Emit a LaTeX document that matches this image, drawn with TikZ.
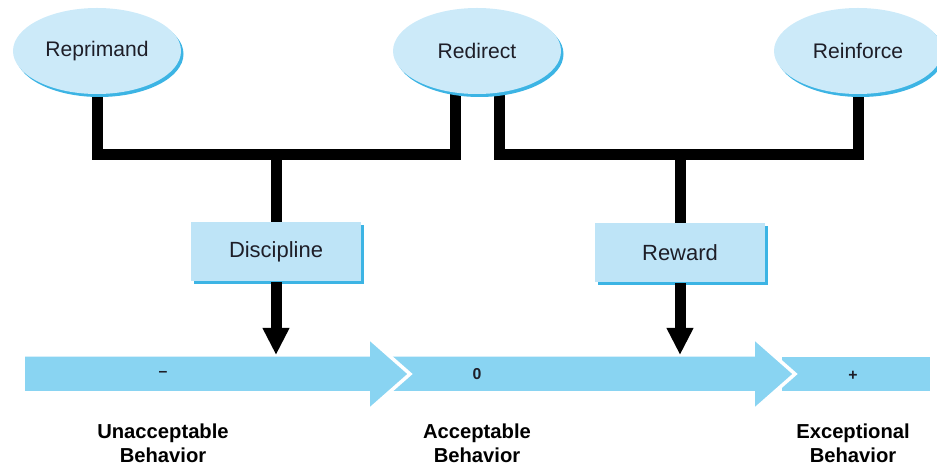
\documentclass[tikz,border=0pt]{standalone}
\usepackage{fontspec}
\setmainfont{Liberation Sans}
\usetikzlibrary{calc}
\usetikzlibrary{shapes.geometric,shadows}
\usetikzlibrary{arrows.meta,backgrounds}

\definecolor{dailan}{RGB}{137,212,242}
\definecolor{qianlan}{RGB}{204,234,249}
\definecolor{kuanglan}{RGB}{190,228,247}
\definecolor{yinlan}{RGB}{60,180,228}
\definecolor{zi}{RGB}{30,30,40}

\begin{document}
\begin{tikzpicture}[x=0.2mm,y=-0.2mm,line join=miter] %% tikz
	\tikzstyle{tuoyuan}=[ellipse,fill=qianlan,minimum width=3.36cm,minimum height=1.72cm,inner sep=0pt,text=zi,font=\fontsize{12}{14}\selectfont,drop shadow={fill=yinlan,opacity=1,shadow xshift=0.5mm,shadow yshift=-0.6mm}];
	\tikzstyle{kuang}=[rectangle,fill=kuanglan,minimum width=3.4cm,minimum height=1.18cm,inner sep=0pt,text=zi,font=\fontsize{12.5}{14}\selectfont,drop shadow={fill=yinlan,opacity=1,shadow xshift=0.6mm,shadow yshift=-0.6mm}];
	\tikzstyle{xian}=[line width=2.2mm,black];
	\tikzstyle{jiantou}=[xian,-{Triangle[length=5.4mm,width=5mm]}];
	\tikzstyle{duan}=[fill=dailan,draw=white,line width=0.7mm];
	\tikzstyle{fuhao}=[text=zi,font=\bfseries\fontsize{9}{10}\selectfont];
	\tikzstyle{biaoqian}=[align=center,text=black,font=\bfseries\fontsize{11.5}{13.5}\selectfont];
	\useasboundingbox (0,0) rectangle (937,466);
	%% nodes
	\node[tuoyuan] (rep) at (97,51) {Reprimand};
	\node[tuoyuan] (redir) at (477,51) {Redirect};
	\node[tuoyuan] (reinf) at (858,51) {Reinforce};
	\node[kuang] (disc) at (276,252) {Discipline};
	\node[kuang] (rew) at (680,253) {Reward};
	\coordinate (heng) at (0,155);
	\coordinate (redL) at ($(redir.south)+(-22,0)$);
	\coordinate (redR) at ($(redir.south)+(22,0)$);
	%% branches
	\begin{pgfonlayer}{background}
		\draw[xian] (rep.south) |- (redL |- heng) -- (redL);
		\draw[xian] (redR) |- (reinf.south |- heng) -- (reinf.south);
		\draw[xian] (disc.north) -- (disc.north |- heng);
		\draw[xian] (rew.north) -- (rew.north |- heng);
	\end{pgfonlayer}
	%% scale
	\fill[duan] (780,355) -- (932,355) -- (932,393) -- (780,393) -- cycle;
	\fill[duan] (380,355) -- (753,355) -- (753,337) -- (795,374) -- (753,411) -- (753,393) -- (380,393) -- cycle;
	\fill[duan] (23,355) -- (368,355) -- (368,337) -- (410,374) -- (368,411) -- (368,393) -- (23,393) -- cycle;
	\coordinate (dai) at (23,355);
	\draw[jiantou] (disc.south) -- (disc.south |- dai);
	\draw[jiantou] (rew.south) -- (rew.south |- dai);
	\node[fuhao] (fu) at (163,374) {--};
	\node[fuhao] (ling) at (477,374) {0};
	\node[fuhao] (zheng) at (853,376) {+};
	%% labels
	\node[biaoqian] (unacc) at (163,443) {Unacceptable\\Behavior};
	\node[biaoqian] (acc) at (477,443) {Acceptable\\Behavior};
	\node[biaoqian] (exc) at (853,443) {Exceptional\\Behavior};
\end{tikzpicture}
\end{document}
